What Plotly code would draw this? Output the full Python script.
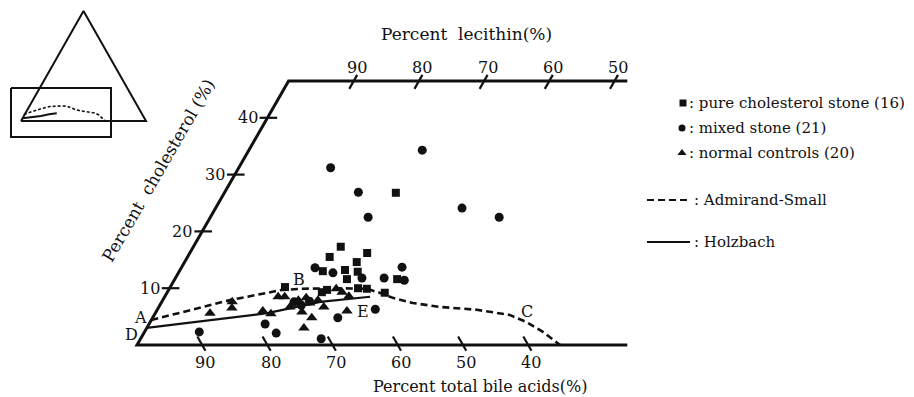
import plotly.graph_objects as go

# ---------------- data (bile acid %, cholesterol %) ----------------
pure_bile = [60.1, 62.7, 56.6, 59.0, 61.5, 59.7, 65.0, 62.0, 72.2, 66.0, 61.1, 59.8, 57.4, 54.3, 46.9, 67.0]
pure_chol = [17.3, 15.5, 16.2, 14.6, 13.2, 12.9, 13.0, 11.6, 10.2, 9.7, 10.0, 9.9, 9.2, 11.6, 26.8, 9.3]

mixed_bile = [54.7, 52.6, 53.3, 39.1, 38.1, 33.2, 65.9, 63.6, 59.6, 56.2, 52.5, 53.3, 60.3, 66.8, 78.5, 77.6, 71.2, 89.3, 72.1, 71.3, 69.7]
mixed_chol = [31.2, 26.9, 22.5, 34.3, 24.1, 22.5, 13.6, 12.7, 11.8, 11.8, 13.7, 11.4, 6.3, 4.8, 3.7, 2.1, 1.1, 2.3, 7.6, 7.0, 7.7]

normal_bile = [86.0, 81.6, 82.2, 77.7, 76.7, 74.1, 73.1, 73.2, 71.3, 69.9, 71.8, 70.8, 72.9, 68.3, 68.0, 64.5, 63.9, 63.2, 64.8, 69.8]
normal_chol = [5.6, 7.6, 6.5, 6.0, 5.5, 8.5, 8.5, 6.7, 7.9, 8.3, 5.8, 4.8, 3.0, 7.9, 6.7, 9.9, 9.3, 8.6, 6.0, 7.4]

admirand_bile = [95.6, 89.3, 81.8, 72.9, 69.6, 64.3, 59.8, 58.2, 56.6, 54.0, 50.2, 44.8, 40.2, 38.2, 36.6, 35.1]
admirand_chol = [4.4, 6.0, 7.9, 9.7, 9.9, 10.0, 9.9, 9.2, 8.3, 7.4, 6.7, 6.2, 5.3, 4.0, 2.3, 0.0]

holzbach_bile = [97.0, 77.2, 68.1, 60.0]
holzbach_chol = [3.0, 5.6, 7.6, 8.5]

bile_ticks = [90, 80, 70, 60, 50, 40]
chol_ticks = [10, 20, 30, 40]
lecithin_ticks = [90, 80, 70, 60, 50]

# ---------------- geometry ----------------
W, H = 914, 397
OX, OY = 137, 345          # pixel position of 100 % bile acid corner
SX, SY = 6.52, 5.68        # pixels per unit
C_TOP = 46.5               # cholesterol level of the upper frame line
X_RIGHT = 75.2             # right end of frame (horizontal ternary units)
FONT = "DejaVu Serif"
INK = "#111111"
NB = "\u00a0"


def tx(b, c):
    """horizontal ternary coordinate of a (bile, cholesterol) composition"""
    return 100 - b - c / 2.0


def txs(bs, cs):
    return [tx(b, c) for b, c in zip(bs, cs)]


fig = go.Figure()

# frame
frame_x = [tx(100 - X_RIGHT, 0), tx(100, 0), tx(100 - C_TOP, C_TOP), X_RIGHT]
frame_y = [0, 0, C_TOP, C_TOP]
fig.add_trace(go.Scatter(x=frame_x, y=frame_y, mode="lines",
                         line=dict(color=INK, width=3), hoverinfo="skip"))

# ticks
tkx, tky = [], []
for b in bile_ticks:
    for c in (-1.0, 1.5):
        tkx.append(tx(b, c)); tky.append(c)
    tkx.append(None); tky.append(None)
for v in lecithin_ticks:
    lec = 100 - v
    for c in (C_TOP - 1.4, C_TOP + 1.05):
        tkx.append(lec + c / 2.0); tky.append(c)
    tkx.append(None); tky.append(None)
for c in chol_ticks:
    for dx in (-1.2, 1.5):
        tkx.append(c / 2.0 + dx); tky.append(c)
    tkx.append(None); tky.append(None)
fig.add_trace(go.Scatter(x=tkx, y=tky, mode="lines",
                         line=dict(color=INK, width=2.2), hoverinfo="skip"))

# curves
fig.add_trace(go.Scatter(x=txs(admirand_bile, admirand_chol), y=admirand_chol, mode="lines",
                         line=dict(color=INK, width=2.6, dash="7px,4px"), hoverinfo="skip"))
fig.add_trace(go.Scatter(x=txs(holzbach_bile, holzbach_chol), y=holzbach_chol, mode="lines",
                         line=dict(color=INK, width=2.2), hoverinfo="skip"))

# points
fig.add_trace(go.Scatter(x=txs(normal_bile, normal_chol), y=normal_chol, mode="markers",
                         marker=dict(symbol="triangle-up", size=10, color=INK)))
fig.add_trace(go.Scatter(x=txs(mixed_bile, mixed_chol), y=mixed_chol, mode="markers",
                         marker=dict(symbol="circle", size=9, color=INK)))
fig.add_trace(go.Scatter(x=txs(pure_bile, pure_chol), y=pure_chol, mode="markers",
                         marker=dict(symbol="square", size=8, color=INK)))

# ---------------- inset (pixel axes) ----------------
IX0, IY0, IS = 21, 121, 1.25
tri_x = [IX0, IX0 + IS * 50, IX0 + IS * 100, IX0]
tri_y = [IY0, IY0 - IS * 100 * 0.88, IY0, IY0]
fig.add_trace(go.Scatter(x=tri_x, y=tri_y, xaxis="x2", yaxis="y2", mode="lines",
                         line=dict(color=INK, width=2), hoverinfo="skip"))
fig.add_trace(go.Scatter(x=[11, 111, 111, 11, 11], y=[88, 88, 137, 137, 88], xaxis="x2", yaxis="y2",
                         mode="lines", line=dict(color=INK, width=2), hoverinfo="skip"))
fig.add_trace(go.Scatter(x=[IX0 + 1.3 * v for v in txs(admirand_bile, admirand_chol)],
                         y=[IY0 - 1.5 * c for c in admirand_chol], xaxis="x2", yaxis="y2", mode="lines",
                         line=dict(color=INK, width=1.6, dash="3px,2px"), hoverinfo="skip"))
fig.add_trace(go.Scatter(x=[IX0 + 1.0 * v for v in txs(holzbach_bile, holzbach_chol)],
                         y=[IY0 - 0.9 * c for c in holzbach_chol], xaxis="x2", yaxis="y2", mode="lines",
                         line=dict(color=INK, width=2), hoverinfo="skip"))

# ---------------- legend glyphs (pixel axes) ----------------
fig.add_trace(go.Scatter(x=[683], y=[103], xaxis="x2", yaxis="y2", mode="markers",
                         marker=dict(symbol="square", size=7, color=INK)))
fig.add_trace(go.Scatter(x=[682], y=[128], xaxis="x2", yaxis="y2", mode="markers",
                         marker=dict(symbol="circle", size=7, color=INK)))
fig.add_trace(go.Scatter(x=[682], y=[153], xaxis="x2", yaxis="y2", mode="markers",
                         marker=dict(symbol="triangle-up", size=8, color=INK)))
fig.add_trace(go.Scatter(x=[647, 690], y=[200, 200], xaxis="x2", yaxis="y2", mode="lines",
                         line=dict(color=INK, width=2, dash="7px,4px"), hoverinfo="skip"))
fig.add_trace(go.Scatter(x=[647, 690], y=[242, 242], xaxis="x2", yaxis="y2", mode="lines",
                         line=dict(color=INK, width=2), hoverinfo="skip"))

ann = []


def txt(x, y, s, size=16, xanchor="center", yanchor="middle", angle=0, ref="x2"):
    ann.append(dict(x=x, y=y, xref=ref, yref=("y2" if ref == "x2" else "y"), text=s, showarrow=False,
                    xanchor=xanchor, yanchor=yanchor, textangle=angle,
                    font=dict(family=FONT, size=size, color=INK)))


# tick labels (data coordinates)
for b in bile_ticks:
    txt(tx(b, -1.0), -3.0, str(b), ref="x")
for v in lecithin_ticks:
    c = C_TOP + 1.05
    txt(100 - v + c / 2.0, 48.8, str(v), ref="x")
for c in chol_ticks:
    txt(c / 2.0 - 1.2, c, str(c), xanchor="right", ref="x")

# axis titles and letters (pixel coordinates)
txt(466, 34, "Percent" + NB * 2 + "lecithin(%)", size=17)
txt(480, 386, "Percent total bile acids(%)", size=16)
txt(158, 171, "Percent" + NB * 2 + "cholesterol" + NB + "(%)", size=17, angle=-60)
txt(140, 317, "A", size=16)
txt(131, 334, "D", size=16)
txt(299, 279, "B", size=16)
txt(363, 311, "E", size=16)
txt(527, 311, "C", size=16)

# legend texts
txt(687, 103, ": pure cholesterol stone (16)", size=15, xanchor="left")
txt(687, 128, ": mixed stone (21)", size=15, xanchor="left")
txt(687, 153, ": normal controls (20)", size=15, xanchor="left")
txt(692, 200, ": Admirand-Small", size=15, xanchor="left")
txt(692, 242, ": Holzbach", size=15, xanchor="left")

fig.update_layout(
    width=W, height=H, margin=dict(l=0, r=0, t=0, b=0),
    paper_bgcolor="white", plot_bgcolor="white", showlegend=False,
    xaxis=dict(range=[-OX / SX, (W - OX) / SX], visible=False, fixedrange=True),
    yaxis=dict(range=[-(H - OY) / SY, OY / SY], visible=False, fixedrange=True),
    xaxis2=dict(range=[0, W], overlaying="x", visible=False, fixedrange=True),
    yaxis2=dict(range=[H, 0], overlaying="y", visible=False, fixedrange=True),
    annotations=ann,
)

fig.write_html("out.html")
